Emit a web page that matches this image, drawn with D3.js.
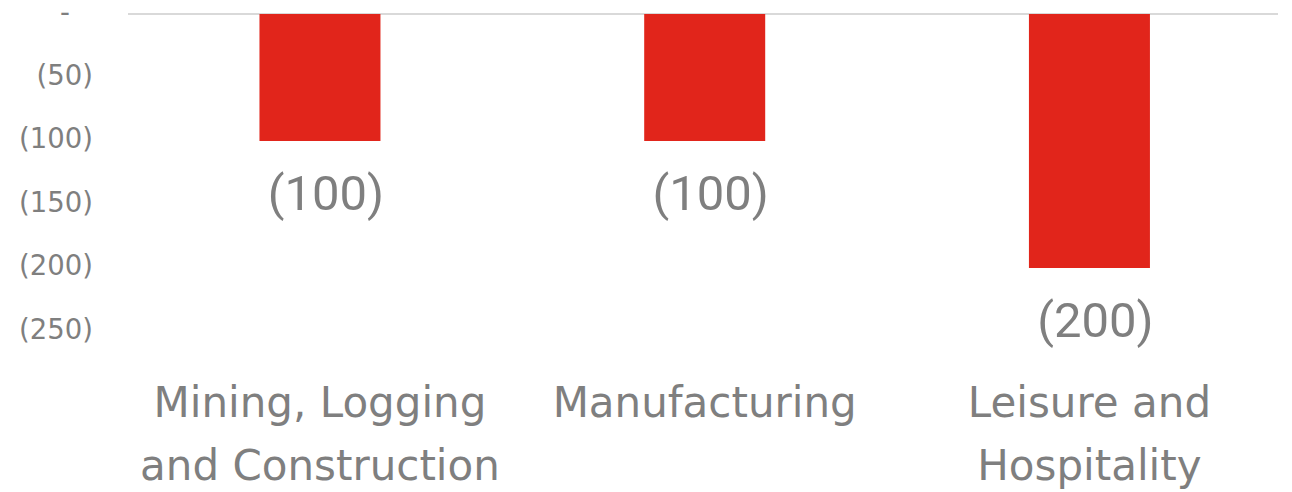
<!DOCTYPE html>
<html><head><meta charset="utf-8">
<script src="https://cdn.jsdelivr.net/npm/d3@7"></script>
<style>
html,body{margin:0;padding:0;background:#fff;}
svg{display:block;}
</style></head>
<body>
<svg id="chart" width="1292" height="492"></svg>
<script>
const categories = [["Mining, Logging","and Construction"],["Manufacturing"],["Leisure and","Hospitality"]];
const categoryKeys = ["Mining, Logging and Construction","Manufacturing","Leisure and Hospitality"];
const values = [-100, -100, -200];
const yTicks = [0, -50, -100, -150, -200, -250];

(function(){
const svg = d3.select("#chart");
const mLeft = 127.6, mRight = 1281.8, mTop = 14, mBottom = 331.5;
const gridLeft = 128, gridRight = 1278;

const x = d3.scaleBand().domain(categoryKeys).range([mLeft, mRight]).paddingInner(0.6855).paddingOuter(0.34275);
const y = d3.scaleLinear().domain([-250, 0]).range([mBottom, mTop]);

const fmt = v => v === 0 ? "-" : "(" + d3.format(",")(Math.abs(v)) + ")";
const textColor = "#7f7f7f";

svg.append("line").attr("x1", gridLeft).attr("x2", gridRight).attr("y1", y(0)).attr("y2", y(0))
  .attr("stroke", "#d9d9d9").attr("stroke-width", 2);

const yAxis = svg.append("g").attr("transform", `translate(${93},0)`)
  .call(d3.axisLeft(y).tickValues(yTicks).tickFormat(fmt).tickSize(0).tickPadding(0));
yAxis.select(".domain").remove();
yAxis.selectAll("text").attr("fill", textColor).attr("font-family", "'DejaVu Sans', sans-serif")
  .attr("font-size", 27.5).attr("dy", "0.32em")
  .attr("transform", d => d === 0 ? "translate(-23,-1)" : "translate(0,-2)");

svg.selectAll("rect.bar").data(values).join("rect").attr("class", "bar")
  .attr("x", (d, i) => x(categoryKeys[i])).attr("width", x.bandwidth())
  .attr("y", d => y(Math.max(0, d))).attr("height", d => Math.abs(y(d) - y(0)))
  .attr("fill", "#e1251b");

svg.selectAll("text.dl").data(values).join("text").attr("class", "dl")
  .attr("x", (d, i) => x(categoryKeys[i]) + x.bandwidth() / 2 + 6)
  .attr("y", d => y(d) + 52).attr("dy", "0.35em")
  .attr("text-anchor", "middle").attr("fill", textColor)
  .attr("font-family", "Roboto, sans-serif").attr("font-size", 49)
  .text(fmt);

const cat = svg.selectAll("text.cat").data(categories).join("text").attr("class", "cat")
  .attr("text-anchor", "middle").attr("fill", textColor)
  .attr("font-family", "'DejaVu Sans', sans-serif").attr("font-size", 42);
cat.each(function(lines, i) {
  const cx = x(categoryKeys[i]) + x.bandwidth() / 2;
  d3.select(this).selectAll("tspan").data(lines).join("tspan")
    .attr("x", cx).attr("y", (d, j) => 402 + j * 63).attr("dy", "0.35em").text(d => d);
});
})();
</script>
</body></html>
